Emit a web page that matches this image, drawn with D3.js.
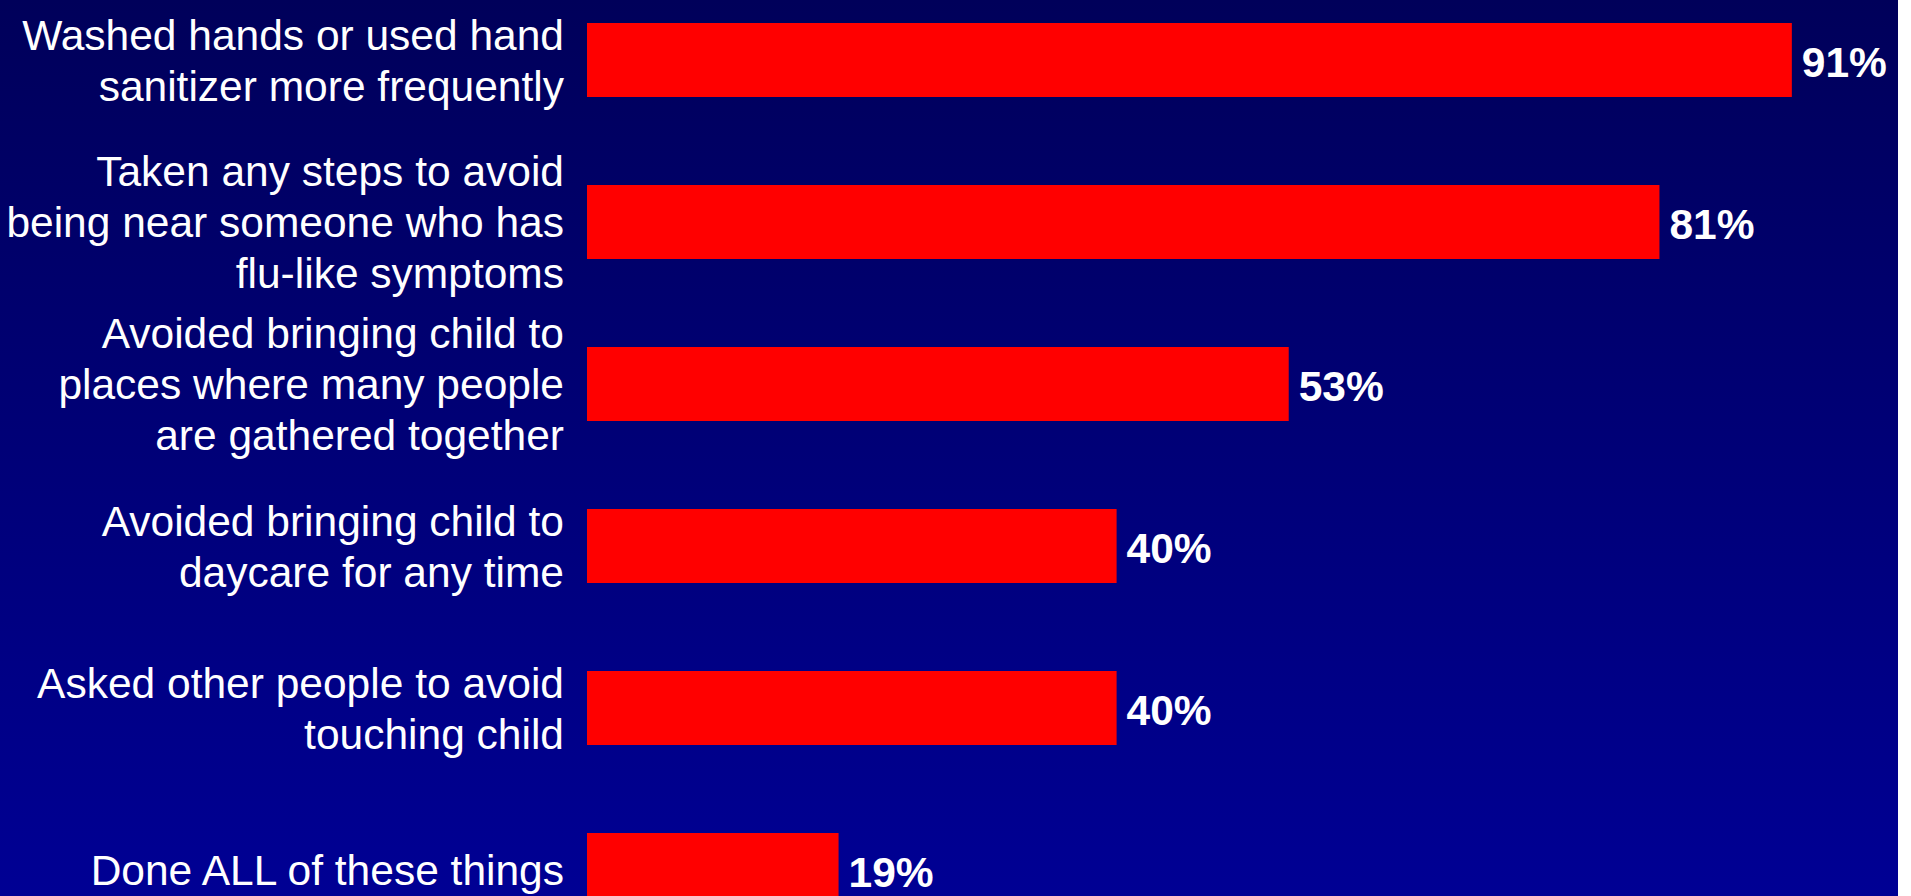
<!DOCTYPE html>
<html>
<head>
<meta charset="utf-8">
<script src="https://cdn.jsdelivr.net/npm/d3@7"></script>
<style>
  html, body { margin: 0; padding: 0; background: #ffffff; overflow: hidden; }
  svg { display: block; }
</style>
</head>
<body>
<svg id="chart" width="1911" height="896"></svg>
<script>
// ---- data ----
const categories = [
  "Washed hands or used hand|sanitizer more frequently",
  "Taken any steps to avoid|being near someone who has|flu-like symptoms",
  "Avoided bringing child to|places where many people|are gathered together",
  "Avoided bringing child to|daycare for any time",
  "Asked other people to avoid|touching child",
  "Done ALL of these things"
];
const values = [91, 81, 53, 40, 40, 19];
const valueLabels = ["91%", "81%", "53%", "40%", "40%", "19%"];

// ---- layout ----
const W = 1911, H = 896;
const svg = d3.select("#chart");

const defs = svg.append("defs");
const grad = defs.append("linearGradient")
  .attr("id", "bg").attr("x1", 0).attr("y1", 0).attr("x2", 0).attr("y2", 1);
grad.append("stop").attr("offset", "0%").attr("stop-color", "#00005a");
grad.append("stop").attr("offset", "100%").attr("stop-color", "#000094");

svg.append("rect").attr("x", 0).attr("y", 0).attr("width", 1898).attr("height", H)
  .attr("fill", "url(#bg)");

const x = d3.scaleLinear().domain([0, 100]).range([587, 1911]);
const y = d3.scaleBand().domain(categories).range([-21, 951])
  .paddingInner(0.5432).paddingOuter(0.2716);

const fontFamily = "'Liberation Sans', Arial, Helvetica, sans-serif";

// bars
svg.append("g").selectAll("rect")
  .data(categories)
  .join("rect")
  .attr("x", x(0))
  .attr("y", d => y(d))
  .attr("width", (d, i) => x(values[i]) - x(0))
  .attr("height", y.bandwidth())
  .attr("fill", "#ff0000");

// value labels
svg.append("g").selectAll("text")
  .data(categories)
  .join("text")
  .attr("x", (d, i) => x(values[i]) + 10)
  .attr("y", d => y(d) + y.bandwidth() / 2 + 17)
  .attr("fill", "#ffffff")
  .attr("font-family", fontFamily)
  .attr("font-weight", "bold")
  .attr("font-size", 42.5)
  .text((d, i) => valueLabels[i]);

// category labels (right-aligned, multi-line)
const lineH = 51;
const labelG = svg.append("g");
categories.forEach(c => {
  const lines = c.split("|");
  const cy = y(c) + y.bandwidth() / 2;
  const firstBaseline = cy + 15 - (lines.length - 1) * lineH / 2;
  const t = labelG.append("text")
    .attr("text-anchor", "end")
    .attr("fill", "#ffffff")
    .attr("font-family", fontFamily)
    .attr("font-size", 42.5);
  lines.forEach((ln, j) => {
    t.append("tspan").attr("x", 564).attr("y", firstBaseline + j * lineH).text(ln);
  });
});
</script>
</body>
</html>
